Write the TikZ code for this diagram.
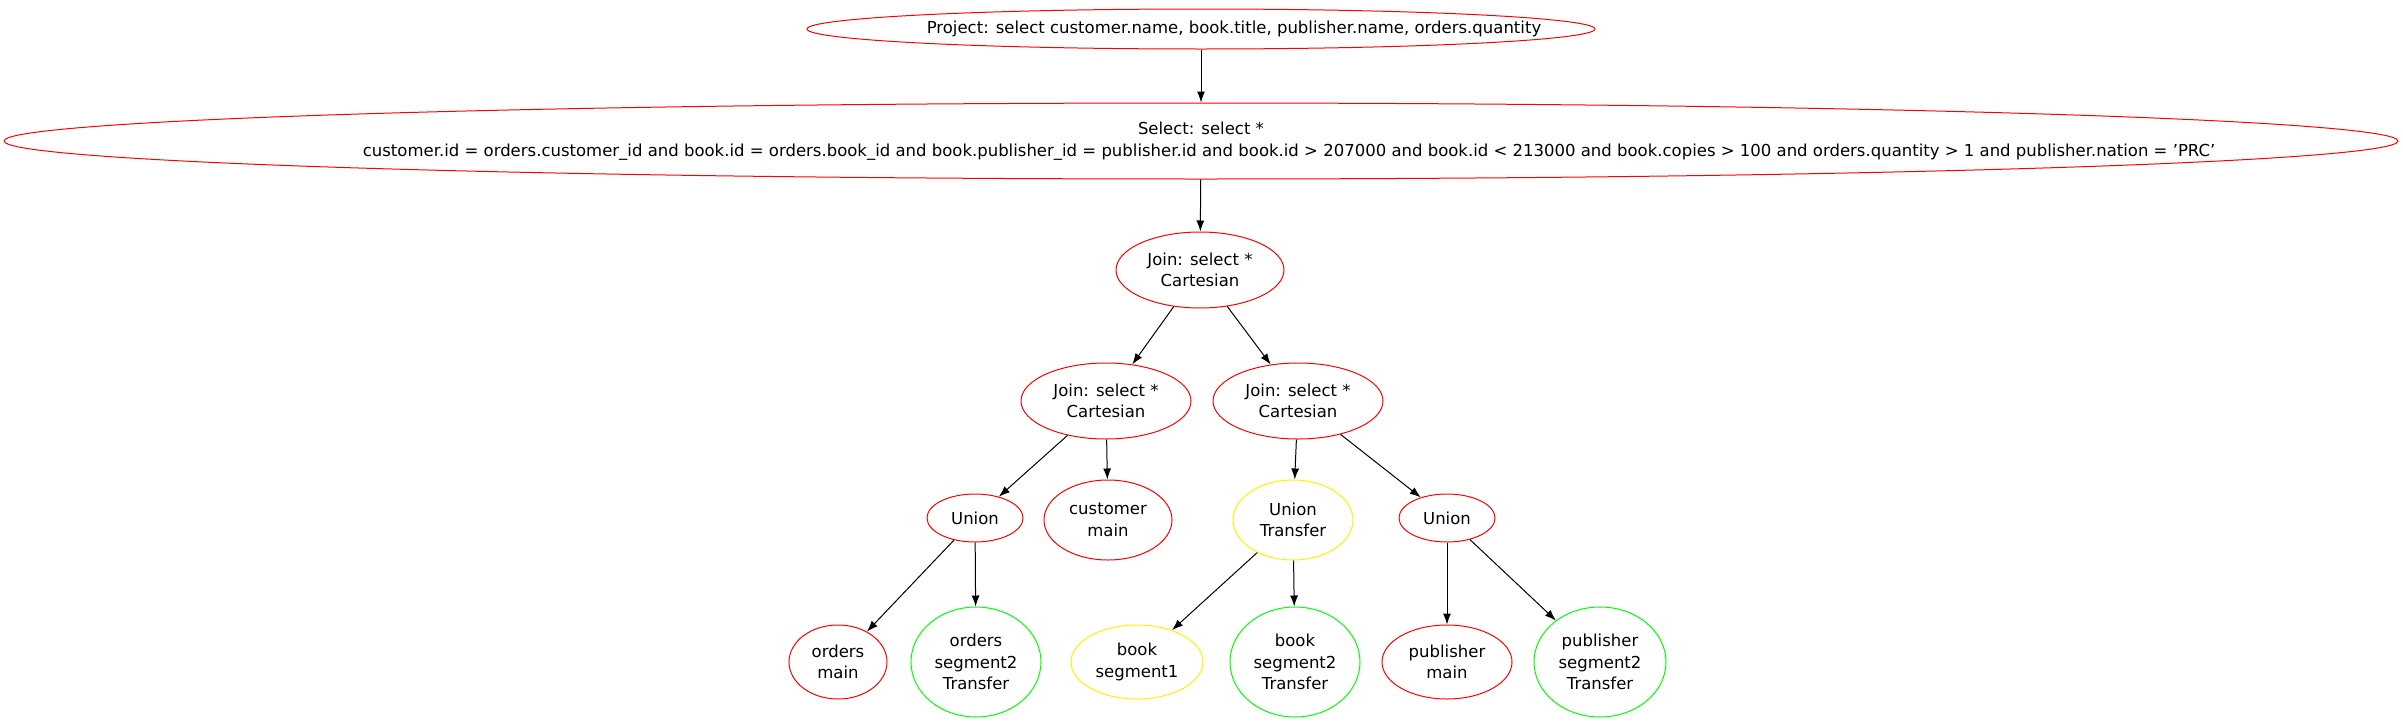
\documentclass[tikz,border=0pt]{standalone}
\usepackage{fontspec}
\setmainfont{DejaVu Sans}
\usetikzlibrary{shapes.geometric,arrows.meta}
\begin{document}
\begin{tikzpicture}[x=1pt,y=1pt,
  op/.style={ellipse,draw=red,line width=1pt,inner xsep=-400pt,inner ysep=0pt,align=center,font=\fontsize{16.5}{21.5}\selectfont},
  hot/.style={op,draw=yellow},
  far/.style={op,draw=green!100!black},
  edge/.style={-{Latex[length=11pt,width=8pt]},line width=1pt,black}]
\useasboundingbox (0,0) rectangle (2403,-723);
\node[op,minimum width=788,minimum height=40] (project) at (1201,-29) {\hspace*{66pt}Project: select customer.name, book.title, publisher.name, orders.quantity};
\node[op,minimum width=2394,minimum height=76] (select) at (1201,-141) {Select: select *\\\hspace*{176pt}customer.id = orders.customer\_id and book.id = orders.book\_id and book.publisher\_id = publisher.id and book.id > 207000 and book.id < 213000 and book.copies > 100 and orders.quantity > 1 and publisher.nation = 'PRC'};
\node[op,minimum width=168,minimum height=76] (join) at (1200,-270) {Join: select *\\Cartesian};
\node[op,minimum width=170,minimum height=76] (joinl) at (1106,-401) {Join: select *\\Cartesian};
\node[op,minimum width=170,minimum height=76] (joinr) at (1298,-401) {Join: select *\\Cartesian};
\node[op,minimum width=96,minimum height=48] (unionl) at (975,-518) {Union};
\node[op,minimum width=128,minimum height=80] (customer) at (1108,-520) {customer\\main};
\node[hot,minimum width=120,minimum height=80] (uniont) at (1293,-520) {Union\\Transfer};
\node[op,minimum width=96,minimum height=48] (unionr) at (1447,-518) {Union};
\node[op,minimum width=98,minimum height=74] (ordersmain) at (838,-662) {orders\\main};
\node[far,minimum width=130,minimum height=110] (orderstr) at (976,-662) {orders\\segment2\\Transfer};
\node[hot,minimum width=132,minimum height=74] (bookseg) at (1137,-662) {book\\segment1};
\node[far,minimum width=130,minimum height=110] (booktr) at (1295,-662) {book\\segment2\\Transfer};
\node[op,minimum width=130,minimum height=74] (pubmain) at (1447,-662) {publisher\\main};
\node[far,minimum width=132,minimum height=110] (pubtr) at (1600,-662) {publisher\\segment2\\Transfer};
\draw[edge] (project) -- (select);
\draw[edge] (select) -- (join);
\draw[edge] (join) -- (joinl);
\draw[edge] (join) -- (joinr);
\draw[edge] (joinl) -- (unionl);
\draw[edge] (joinl) -- (customer);
\draw[edge] (joinr) -- (uniont);
\draw[edge] (joinr) -- (unionr);
\draw[edge] (unionl) -- (ordersmain);
\draw[edge] (unionl) -- (orderstr);
\draw[edge] (uniont) -- (bookseg);
\draw[edge] (uniont) -- (booktr);
\draw[edge] (unionr) -- (pubmain);
\draw[edge] (unionr) -- (pubtr);
\end{tikzpicture}
\end{document}
